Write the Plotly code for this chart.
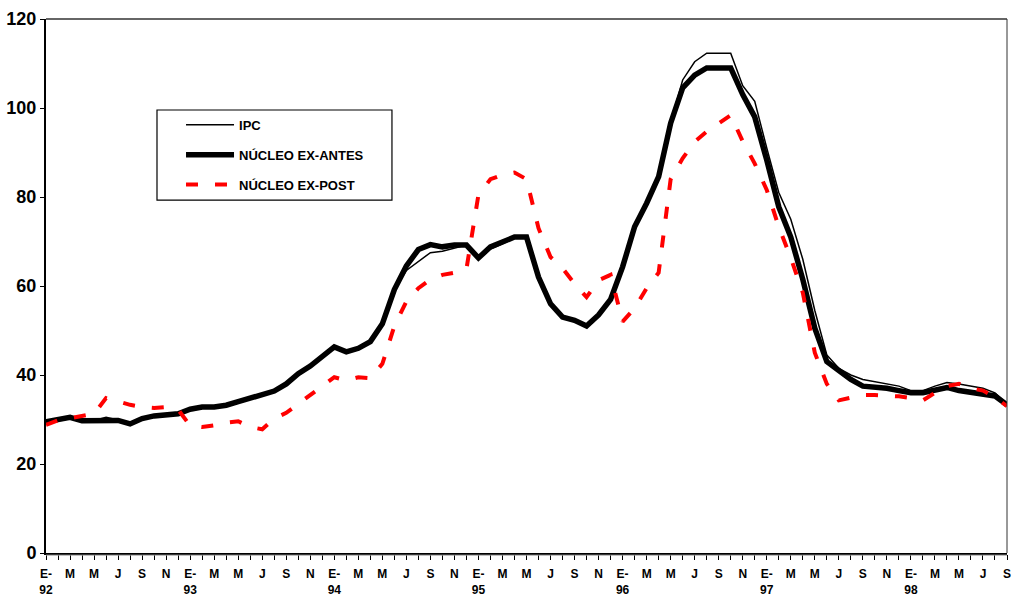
import plotly.graph_objects as go

# Monthly series, January 1992 to September 1998
years = ["92", "93", "94", "95", "96", "97", "98"]
month_letters = ["E-", "M", "M", "J", "S", "N"]

ipc = [
    29.5, 30.0, 30.5, 29.7, 29.8, 30.5, 29.9, 29.0, 30.2, 30.8, 31.2, 31.3,
    32.3, 32.8, 32.8, 33.2, 34.0, 34.8, 35.5, 36.4, 38.0, 40.3, 42.0, 44.0,
    46.3, 45.2, 46.0, 47.5, 51.5, 59.0, 63.5, 65.5, 67.5, 67.8, 68.5, 69.2,
    66.5, 68.3, 69.5, 70.8, 71.0, 62.0, 56.0, 53.0, 52.3, 51.0, 53.5, 57.0,
    64.3, 73.3, 78.6, 84.6, 96.6, 106.3, 110.4, 112.3, 112.3, 112.3, 105.0, 101.5,
    91.0, 81.0, 75.0, 66.0, 54.5, 44.5, 41.5, 40.0, 39.0, 38.5, 38.0, 37.5,
    36.5, 36.5, 37.5, 38.3, 38.0, 37.5, 37.0, 36.0, 33.5,
]

nucleo_ex_antes = [
    29.5, 30.0, 30.5, 29.7, 29.7, 30.0, 29.8, 29.0, 30.2, 30.8, 31.2, 31.3,
    32.3, 32.8, 32.8, 33.2, 34.0, 34.8, 35.5, 36.4, 38.0, 40.3, 42.0, 44.0,
    46.3, 45.2, 46.0, 47.5, 51.5, 59.2, 64.5, 68.2, 69.3, 68.8, 69.2, 69.2,
    66.3, 68.8, 70.0, 71.0, 71.0, 62.0, 56.0, 53.0, 52.3, 51.0, 53.5, 57.0,
    64.3, 73.3, 78.6, 84.6, 96.6, 104.5, 107.4, 109.0, 109.0, 109.0, 103.0, 98.0,
    88.3, 77.8, 71.0, 61.5, 50.5, 43.0, 41.0, 39.0, 37.5, 37.3, 37.0, 36.5,
    36.0, 36.0, 36.5, 37.2, 36.5, 36.0, 35.8, 35.3, 33.3,
]

nucleo_ex_post = [
    28.8, 29.8, 30.3, 30.8, 31.3, 34.8, 34.0, 33.3, 32.8, 32.6, 32.8, 32.2,
    28.6, 28.3, 28.7, 29.3, 29.6, 28.3, 27.8, 30.2, 31.5, 33.5, 35.5, 37.5,
    39.5, 38.8, 39.5, 39.3, 42.5, 51.0, 56.5, 59.5, 61.5, 62.5, 63.0, 63.8,
    80.5, 84.0, 85.0, 85.5, 84.0, 73.0, 66.5, 64.0, 60.5, 57.5, 61.3, 62.5,
    52.0, 55.0, 59.5, 63.0, 84.0, 88.7, 92.4, 94.7, 96.5, 98.4, 92.5, 87.5,
    81.6, 73.3, 66.3, 58.5, 45.0, 38.0, 34.3, 35.0, 35.5, 35.5, 35.4, 35.2,
    34.8, 34.3, 36.0, 37.5, 38.0, 37.0, 36.5, 35.0, 33.0,
]

months = list(range(len(ipc)))

# Labels every second month; January carries the year on a second line
tick_vals = list(range(0, len(ipc), 2))
tick_text = []
for v in tick_vals:
    letter = month_letters[(v % 12) // 2]
    if v % 12 == 0:
        tick_text.append(letter + "<br>" + years[v // 12])
    else:
        tick_text.append(letter)

FONT = "Liberation Sans, Arial, sans-serif"

fig = go.Figure()
fig.add_trace(go.Scatter(
    x=months, y=ipc, mode="lines", name="IPC",
    line=dict(color="black", width=1.5), legendgroup="a",
))
fig.add_trace(go.Scatter(
    x=months, y=nucleo_ex_antes, mode="lines", name="NÚCLEO EX-ANTES",
    line=dict(color="black", width=5.5), legendgroup="b",
))
fig.add_trace(go.Scatter(
    x=months, y=nucleo_ex_post, mode="lines", name="NÚCLEO EX-POST",
    line=dict(color="#ff0000", width=4, dash="12px,17px"), legendgroup="c",
))

fig.update_layout(
    width=1014, height=598,
    margin=dict(l=46, r=7, t=19, b=45),
    paper_bgcolor="white", plot_bgcolor="white",
    font=dict(family=FONT, color="black", weight="bold"),
    showlegend=True,
    legend=dict(
        x=0.1405, y=0.83, xanchor="left", yanchor="top",
        borderwidth=0, bgcolor="rgba(0,0,0,0)",
        font=dict(size=13, family=FONT, weight="bold"),
        tracegroupgap=10, traceorder="grouped", itemwidth=48,
    ),
    xaxis=dict(
        range=[0, 80], tickvals=tick_vals, ticktext=tick_text,
        showgrid=False, zeroline=False, automargin=False,
        showline=True, linecolor="black", linewidth=2,
        ticks="outside", ticklen=5, tickcolor="black", tickwidth=1,
        minor=dict(dtick=1, tick0=0, ticks="outside", ticklen=5, tickcolor="black", tickwidth=1),
        tickfont=dict(size=12, family=FONT, weight="bold"),
        tickangle=0, ticklabelstandoff=4,
    ),
    yaxis=dict(
        range=[0, 120], tickvals=[0, 20, 40, 60, 80, 100, 120],
        showgrid=False, zeroline=False, automargin=False,
        showline=True, linecolor="black", linewidth=2,
        ticks="outside", ticklen=4, tickcolor="black", tickwidth=1,
        tickfont=dict(size=18, family=FONT, weight="bold"),
    ),
    shapes=[
        # frame: top and right edges of the plotting area
        dict(type="line", xref="paper", yref="paper", x0=0, x1=1, y0=1, y1=1,
             line=dict(color="#333333", width=1.5)),
        dict(type="line", xref="paper", yref="paper", x0=1, x1=1, y0=0, y1=1,
             line=dict(color="#333333", width=1)),
        # grey shadow line under the horizontal axis
        dict(type="line", xref="paper", yref="paper", x0=0, x1=1, y0=-0.004, y1=-0.004,
             line=dict(color="#999999", width=1)),
        # legend box
        dict(type="rect", xref="paper", yref="paper",
             x0=0.1155, x1=0.360, y0=0.661, y1=0.8296,
             line=dict(color="black", width=1.2), fillcolor="white", layer="below"),
    ],
)

fig.write_html("out.html")
